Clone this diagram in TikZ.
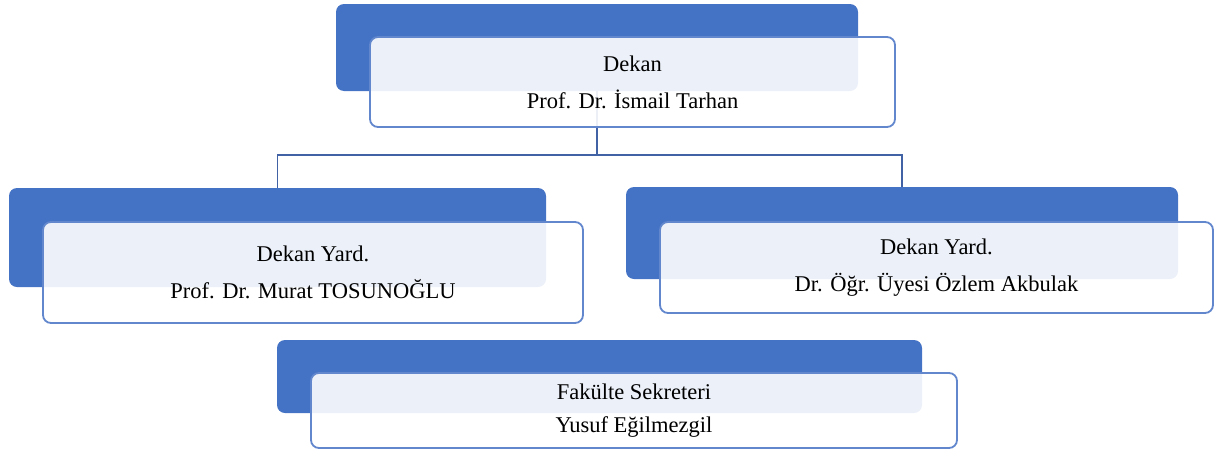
\documentclass[tikz,border=0pt]{standalone}
\usepackage{fontspec}
\setmainfont{Liberation Serif}
\definecolor{accent}{RGB}{68,114,196}
\definecolor{edge}{RGB}{98,135,205}
\definecolor{conn}{RGB}{66,98,166}
\begin{document}
\begin{tikzpicture}[x=1pt,y=-1pt,
  bluebox/.style={fill=accent,draw=none,rounded corners=8pt,inner sep=0pt},
  whitebox/.style={fill=white,fill opacity=0.9,text opacity=1,draw=edge,line width=1.8pt,rounded corners=8pt,inner sep=0pt,align=center,font=\fontsize{22.5}{37}\selectfont},
  connector/.style={draw=conn,line width=1.5pt}]
\useasboundingbox (0,0) rectangle (1215,450);
% blue back plates
\node[bluebox,minimum width=522pt,minimum height=87pt] (b0) at (597,47.5) {};
\node[bluebox,minimum width=537pt,minimum height=99pt] (b1) at (277.5,237.5) {};
\node[bluebox,minimum width=552pt,minimum height=92pt] (b2) at (902,233) {};
\node[bluebox,minimum width=645pt,minimum height=73pt] (b3) at (599.5,376.5) {};
% connectors
\coordinate (j) at (597,155);
\draw[connector] (b0.south) -- (j);
\draw[connector] (j) -| (b1.north);
\draw[connector] (j) -| (b2.north);
% white front boxes
\node[whitebox,minimum width=525pt,minimum height=90pt] (w0) at (632.5,82) {Dekan\\Prof. Dr. İsmail Tarhan};
\node[whitebox,minimum width=540pt,minimum height=101pt] (w1) at (313,272.5) {\raisebox{3pt}{\parbox{500pt}{\centering Dekan Yard.\\Prof. Dr. Murat TOSUNOĞLU}}};
\node[whitebox,minimum width=553pt,minimum height=91pt] (w2) at (936.5,267.5) {\raisebox{3pt}{\parbox{500pt}{\centering Dekan Yard.\\Dr. Öğr. Üyesi Özlem Akbulak}}};
\node[whitebox,minimum width=646pt,minimum height=75pt,font=\fontsize{22.5}{33}\selectfont] (w3) at (634,410.5) {Fakülte Sekreteri\\Yusuf Eğilmezgil};
\end{tikzpicture}
\end{document}
